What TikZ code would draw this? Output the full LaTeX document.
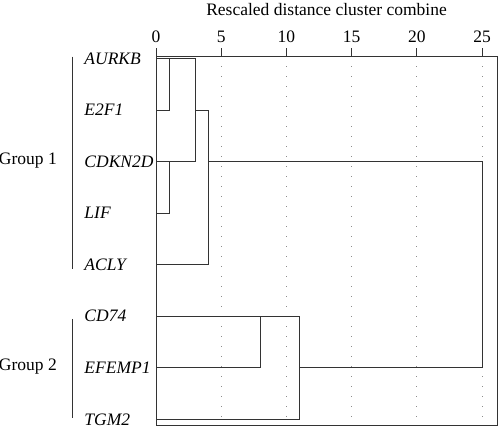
\documentclass[tikz,border=0pt]{standalone}
\usepackage{fontspec}
\setmainfont{Liberation Serif}
\newcommand\plotsize{\fontsize{17.5}{21}\selectfont}
\begin{document}
\begin{tikzpicture}[x=13.04pt, y=-51.55pt, line width=0.9pt,
    tree/.style={draw=black!80},
    grid dots/.style={draw=black!45, line width=0.9pt, dash pattern=on 0.9pt off 9.1pt},
    leaf/.style={anchor=west, inner sep=0pt, font=\plotsize\itshape},
    plain/.style={inner sep=0pt, font=\plotsize}]
\useasboundingbox (-11.963,-1.1348) rectangle (26.380,7.168);
% grid
\foreach \d in {5,10,...,25}
    \draw[grid dots] (\d,0.149) -- (\d,7.11);
% frame and axis
\draw[tree] (0,-0.0485) rectangle (26.15,7.11);
\foreach \d in {0,5,...,25} {
    \draw[tree] (\d,-0.0485) -- (\d,-0.2037);
    \node (tick\d) at (\d,-0.417) [plain] {\d};
}
\node (title) at (13.08,-0.941) [plain] {Rescaled distance cluster combine};
% leaves
\foreach \g [count=\i from 0] in {AURKB,E2F1,CDKN2D,LIF,ACLY,CD74,EFEMP1,TGM2}
    \node (\g) at (-5.52,\i) [leaf] {\g};
% tree
\draw[tree] (0,0) -- (3,0) -- (3,2) -- (0,2);
\draw[tree] (1,0) -- (1,1) -- (0,1);
\draw[tree] (3,1) -- (4,1) -- (4,4) -- (0,4);
\draw[tree] (1,2) -- (1,3) -- (0,3);
\draw[tree] (4,2) -- (25,2) -- (25,6) -- (11,6);
\draw[tree] (0,5) -- (11,5) -- (11,7) -- (0,7);
\draw[tree] (8,5) -- (8,6) -- (0,6);
% groups
\draw[tree] (-6.44,-0.035) -- (-6.44,4.08);
\draw[tree] (-6.44,5.05) -- (-6.44,6.97);
\node (group1) at (-7.57,2.047) [plain, anchor=base east] {Group 1};
\node (group2) at (-7.57,6.05) [plain, anchor=base east] {Group 2};
\end{tikzpicture}
\end{document}
